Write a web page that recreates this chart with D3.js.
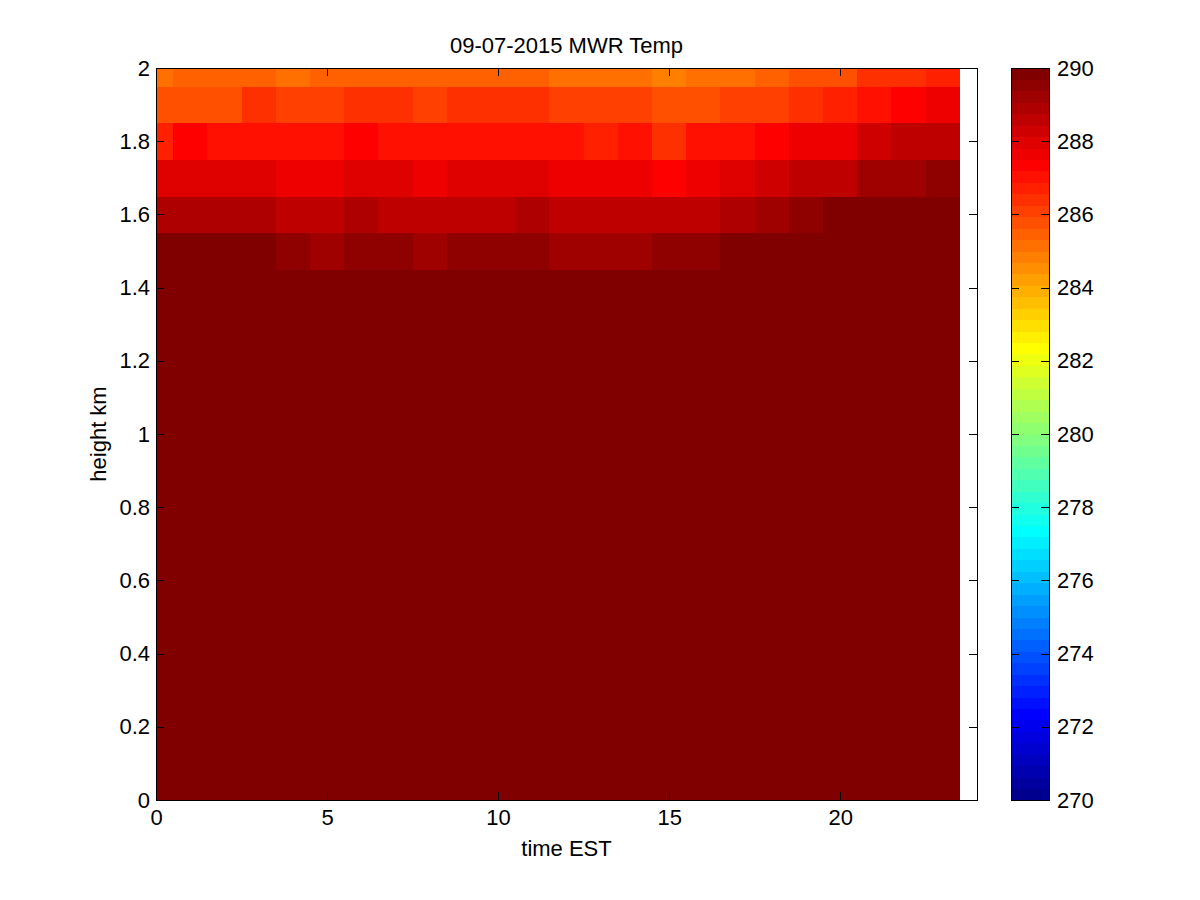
<!DOCTYPE html>
<html>
<head>
<meta charset="utf-8">
<script src="https://cdn.jsdelivr.net/npm/d3@7"></script>
<style>
  html, body { margin: 0; padding: 0; background: #fff; }
  svg { display: block; }
  text { font-family: "Liberation Sans", Arial, Helvetica, sans-serif; fill: #000; }
</style>
</head>
<body>
<svg id="chart" width="1200" height="900"></svg>
<script>
// ---------------- data ----------------
const title = "09-07-2015 MWR Temp";
const xLabel = "time EST";
const yLabel = "height km";

// time of each profile (hours EST)
const times = [0,1,2,3,4,5,6,7,8,9,10,11,12,13,14,15,16,17,18,19,20,21,22,23];
// retrieval heights (km)
const heights = [0,0.1,0.2,0.3,0.4,0.5,0.6,0.7,0.8,0.9,1.0,1.1,1.2,1.3,1.4,1.5,1.6,1.7,1.8,1.9,2.0];

// temperature (K), one row per height, bottom to top (values >= 290 saturate the colour scale)
const temp_0_0 = [297.5,297.3,297.0,296.8,296.6,296.8,297.4,298.2,299.0,299.8,300.5,301.0,301.4,301.6,301.7,301.5,301.0,300.3,299.6,299.0,298.6,298.3,298.0,297.8];
const temp_0_1 = [297.0,296.8,296.6,296.4,296.2,296.4,296.9,297.6,298.3,299.0,299.7,300.2,300.5,300.7,300.8,300.6,300.2,299.6,299.0,298.5,298.1,297.8,297.5,297.3];
const temp_0_2 = [296.4,296.2,296.0,295.8,295.6,295.8,296.2,296.8,297.5,298.1,298.7,299.2,299.5,299.7,299.8,299.6,299.2,298.7,298.2,297.7,297.3,297.0,296.8,296.6];
const temp_0_3 = [295.8,295.6,295.4,295.2,295.1,295.2,295.6,296.1,296.7,297.3,297.8,298.2,298.5,298.7,298.8,298.6,298.2,297.8,297.3,296.9,296.6,296.3,296.1,295.9];
const temp_0_4 = [295.2,295.0,294.8,294.7,294.5,294.6,295.0,295.4,296.0,296.5,296.9,297.3,297.6,297.7,297.8,297.6,297.3,296.9,296.5,296.1,295.8,295.6,295.4,295.2];
const temp_0_5 = [294.6,294.4,294.3,294.1,294.0,294.1,294.4,294.8,295.2,295.7,296.1,296.4,296.6,296.8,296.8,296.7,296.4,296.0,295.7,295.4,295.1,294.9,294.7,294.6];
const temp_0_6 = [294.0,293.9,293.7,293.6,293.5,293.6,293.8,294.1,294.5,294.9,295.2,295.5,295.7,295.8,295.9,295.7,295.5,295.2,294.9,294.6,294.4,294.2,294.1,294.0];
const temp_0_7 = [293.5,293.3,293.2,293.1,293.0,293.0,293.2,293.5,293.8,294.1,294.4,294.6,294.8,294.9,294.9,294.8,294.6,294.4,294.1,293.9,293.7,293.6,293.5,293.4];
const temp_0_8 = [292.9,292.8,292.7,292.6,292.5,292.5,292.7,292.9,293.1,293.4,293.6,293.8,293.9,294.0,294.0,293.9,293.7,293.5,293.3,293.2,293.0,292.9,292.9,292.8];
const temp_0_9 = [292.4,292.3,292.2,292.1,292.0,292.0,292.1,292.3,292.5,292.7,292.8,293.0,293.0,293.1,293.1,293.0,292.9,292.7,292.6,292.5,292.4,292.3,292.3,292.2];
const temp_1_0 = [291.9,291.8,291.7,291.6,291.5,291.5,291.6,291.7,291.8,292.0,292.1,292.2,292.2,292.2,292.2,292.2,292.1,292.0,291.9,291.8,291.8,291.7,291.7,291.7];
const temp_1_1 = [291.4,291.3,291.2,291.1,291.1,291.1,291.1,291.2,291.3,291.3,291.4,291.4,291.4,291.4,291.4,291.4,291.3,291.3,291.2,291.2,291.2,291.2,291.2,291.2];
const temp_1_2 = [290.9,290.8,290.8,290.7,290.6,290.6,290.6,290.7,290.7,290.7,290.7,290.7,290.7,290.6,290.6,290.6,290.6,290.6,290.6,290.6,290.7,290.7,290.7,290.7];
const temp_1_3 = [290.4,290.4,290.3,290.3,290.2,290.2,290.2,290.2,290.2,290.1,290.1,290.1,290.0,290.0,290.0,290.0,290.0,290.0,290.0,290.1,290.2,290.2,290.2,290.2];
const temp_1_4 = [290.0,290.0,289.9,289.9,289.8,289.8,289.8,289.8,289.8,289.7,289.7,289.7,289.7,289.7,289.7,289.7,289.7,289.7,289.8,289.8,289.8,289.8,289.9,289.9];
const temp_1_5 = [289.9,289.9,289.9,289.9,289.5,289.2,289.5,289.5,289.2,289.5,289.5,289.5,289.2,289.2,289.2,289.5,289.5,289.9,289.9,289.9,289.9,289.9,289.9,289.9];
const temp_1_6 = [288.9,288.9,288.9,288.9,288.6,288.6,288.9,288.6,288.6,288.6,288.6,288.9,288.6,288.6,288.6,288.6,288.6,288.9,289.2,289.5,289.9,289.9,289.9,289.9];
const temp_1_7 = [288.0,288.0,288.0,288.0,287.7,287.7,288.0,288.0,287.7,288.0,288.0,288.0,287.7,287.7,287.7,287.3,287.7,288.0,288.3,288.6,288.6,289.2,289.2,289.5];
const temp_1_8 = [286.7,287.3,287.0,287.0,287.0,287.0,287.3,287.0,287.0,287.0,287.0,287.0,287.0,286.7,287.0,286.4,287.0,287.0,287.3,287.7,287.7,288.3,288.6,288.6];
const temp_1_9 = [285.8,285.8,285.8,286.4,286.1,286.1,286.4,286.4,286.1,286.4,286.4,286.4,286.1,286.1,286.1,285.8,285.8,286.1,286.1,286.4,286.7,287.0,287.3,287.7];
const temp_2_0 = [285.2,285.5,285.5,285.5,285.2,285.5,285.5,285.5,285.5,285.5,285.5,285.5,285.2,285.2,285.2,284.8,285.2,285.2,285.5,285.8,285.8,286.4,286.4,286.7];

const tempRows = [temp_0_0,temp_0_1,temp_0_2,temp_0_3,temp_0_4,temp_0_5,temp_0_6,temp_0_7,temp_0_8,temp_0_9,
                  temp_1_0,temp_1_1,temp_1_2,temp_1_3,temp_1_4,temp_1_5,temp_1_6,temp_1_7,temp_1_8,temp_1_9,temp_2_0];

const xTicks = [0,5,10,15,20];
const yTicks = [0,0.2,0.4,0.6,0.8,1,1.2,1.4,1.6,1.8,2];
const yTickLabels = ["0","0.2","0.4","0.6","0.8","1","1.2","1.4","1.6","1.8","2"];
const cbTicks = [270,272,274,276,278,280,282,284,286,288,290];
const cLim = [270, 290];

// ---------------- MATLAB jet(64) colormap ----------------
function jet(m) {
  const n = Math.ceil(m / 4);
  const u = [];
  for (let i = 1; i <= n; i++) u.push(i / n);
  for (let i = 1; i < n; i++) u.push(1);
  for (let i = n; i >= 1; i--) u.push(i / n);
  const gOff = Math.ceil(n / 2) - (m % 4 === 1 ? 1 : 0);
  const r = new Array(m).fill(0), g = new Array(m).fill(0), b = new Array(m).fill(0);
  u.forEach((v, k) => {
    const gi = gOff + k, ri = gi + n, bi = gi - n;   // zero-based
    if (gi >= 0 && gi < m) g[gi] = v;
    if (ri >= 0 && ri < m) r[ri] = v;
    if (bi >= 0 && bi < m) b[bi] = v;
  });
  return d3.range(m).map(i => d3.rgb(Math.round(r[i] * 255), Math.round(g[i] * 255), Math.round(b[i] * 255)).formatHex());
}
const jetColors = jet(64);
const color = d3.scaleQuantize().domain(cLim).range(jetColors);

// ---------------- layout ----------------
const svg = d3.select("#chart");
const plot = { left: 156, right: 977, top: 68, bottom: 800 };
const cb = { left: 1011, right: 1049, top: 68, bottom: 800 };
const FONT = 22;
const TICK = 8;

const x = d3.scaleLinear().domain([0, 24]).range([plot.left, plot.right]);
const y = d3.scaleLinear().domain([0, 2]).range([plot.bottom, plot.top]);

svg.append("rect").attr("width", 1200).attr("height", 900).attr("fill", "#fff");

svg.append("defs").append("clipPath").attr("id", "plotclip")
  .append("rect").attr("x", plot.left).attr("y", plot.top)
  .attr("width", plot.right - plot.left).attr("height", plot.bottom - plot.top);

// cells
const cells = [];
heights.forEach((h, i) => times.forEach((t, j) => cells.push({ t, h, v: tempRows[i][j] })));
const dt = 1, dh = 0.1;
svg.append("g").attr("clip-path", "url(#plotclip)")
  .selectAll("rect").data(cells).join("rect")
  .attr("x", d => x(d.t - dt / 2))
  .attr("y", d => y(d.h + dh / 2))
  .attr("width", d => x(d.t + dt / 2) - x(d.t - dt / 2) + 0.5)
  .attr("height", d => y(d.h - dh / 2) - y(d.h + dh / 2) + 0.5)
  .attr("fill", d => color(d.v))
  .attr("shape-rendering", "crispEdges");

// axes (MATLAB box with inward ticks)
function styleAxis(g) {
  g.selectAll("path.domain").attr("stroke", "#000").attr("stroke-width", 1).attr("shape-rendering", "crispEdges");
  g.selectAll(".tick line").attr("stroke", "#000").attr("stroke-width", 1).attr("shape-rendering", "crispEdges");
  g.selectAll(".tick text").attr("font-size", FONT).attr("fill", "#000")
    .attr("font-family", '"Liberation Sans", Arial, Helvetica, sans-serif');
}

const gx = svg.append("g").attr("transform", `translate(0,${plot.bottom})`)
  .call(d3.axisBottom(x).tickValues(xTicks).tickFormat(d3.format("d")).tickSizeInner(-TICK).tickSizeOuter(0).tickPadding(9));
styleAxis(gx);
const gxTop = svg.append("g").attr("transform", `translate(0,${plot.top})`)
  .call(d3.axisTop(x).tickValues(xTicks).tickFormat("").tickSizeInner(-TICK).tickSizeOuter(0));
styleAxis(gxTop);

const gy = svg.append("g").attr("transform", `translate(${plot.left},0)`)
  .call(d3.axisLeft(y).tickValues(yTicks).tickFormat((d, i) => yTickLabels[i]).tickSizeInner(-TICK).tickSizeOuter(0).tickPadding(6));
styleAxis(gy);
const gyRight = svg.append("g").attr("transform", `translate(${plot.right},0)`)
  .call(d3.axisRight(y).tickValues(yTicks).tickFormat("").tickSizeInner(-TICK).tickSizeOuter(0));
styleAxis(gyRight);

// titles
svg.append("text").attr("x", (plot.left + plot.right) / 2).attr("y", 53)
  .attr("text-anchor", "middle").attr("font-size", FONT).text(title);
svg.append("text").attr("x", (plot.left + plot.right) / 2).attr("y", 856)
  .attr("text-anchor", "middle").attr("font-size", FONT).text(xLabel);
svg.append("text")
  .attr("transform", `translate(106,${(plot.top + plot.bottom) / 2}) rotate(-90)`)
  .attr("text-anchor", "middle").attr("font-size", FONT).text(yLabel);

// colorbar
const cy = d3.scaleLinear().domain(cLim).range([cb.bottom, cb.top]);
const step = (cLim[1] - cLim[0]) / jetColors.length;
svg.append("g").selectAll("rect").data(jetColors).join("rect")
  .attr("x", cb.left)
  .attr("y", (c, i) => cy(cLim[0] + (i + 1) * step))
  .attr("width", cb.right - cb.left)
  .attr("height", (c, i) => cy(cLim[0] + i * step) - cy(cLim[0] + (i + 1) * step) + 0.5)
  .attr("fill", c => c)
  .attr("shape-rendering", "crispEdges");

const gcR = svg.append("g").attr("transform", `translate(${cb.right},0)`)
  .call(d3.axisRight(cy).tickValues(cbTicks).tickFormat(d3.format("d")).tickSizeInner(-TICK).tickSizeOuter(0).tickPadding(8));
styleAxis(gcR);
const gcL = svg.append("g").attr("transform", `translate(${cb.left},0)`)
  .call(d3.axisLeft(cy).tickValues(cbTicks).tickFormat("").tickSizeInner(-TICK).tickSizeOuter(0));
styleAxis(gcL);
const gcT = svg.append("g").attr("transform", `translate(0,${cb.top})`)
  .call(d3.axisTop(d3.scaleLinear().domain([0, 1]).range([cb.left, cb.right])).tickValues([]).tickSizeOuter(0));
styleAxis(gcT);
const gcB = svg.append("g").attr("transform", `translate(0,${cb.bottom})`)
  .call(d3.axisBottom(d3.scaleLinear().domain([0, 1]).range([cb.left, cb.right])).tickValues([]).tickSizeOuter(0));
styleAxis(gcB);
</script>
</body>
</html>
